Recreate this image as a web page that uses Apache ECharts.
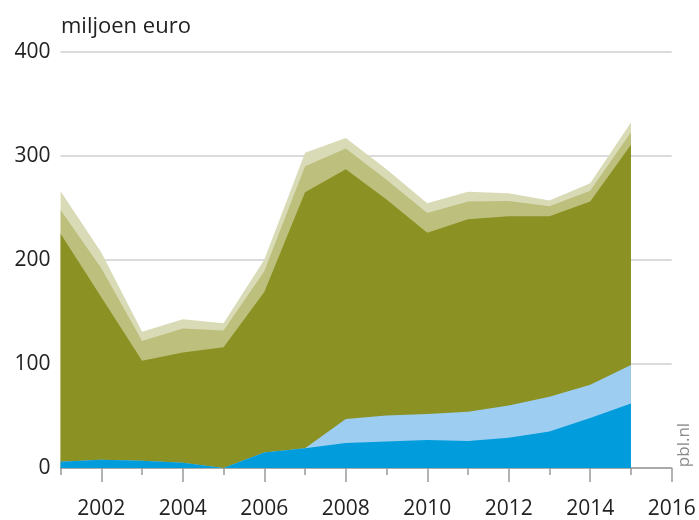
<!DOCTYPE html>
<html>
<head>
<meta charset="utf-8">
<script src="https://cdn.jsdelivr.net/npm/echarts@6/dist/echarts.min.js"></script>
<style>
html,body{margin:0;padding:0;background:#fff;}
#chart{width:699px;height:520px;}
</style>
</head>
<body>
<div id="chart"></div>
<script>
// Data (miljoen euro), layers listed bottom to top
const years = [2001,2002,2003,2004,2005,2006,2007,2008,2009,2010,2011,2012,2013,2014,2015];
const blueSeries      = [6, 8, 7, 5, 0, 15, 19, 24, 25.5, 27, 26, 29, 35, 48, 62];
const lightBlueSeries = [0, 0, 0, 0, 0, 0, 0, 23, 25, 25, 28, 31, 33.5, 32, 37];
const oliveSeries     = [219, 156, 96, 106, 116, 154, 246, 240, 207.5, 174, 185, 182, 173.5, 176, 211.5];
const mediumSeries    = [23, 28, 19, 23, 16, 20, 25, 20, 19, 19, 17, 14.5, 9.5, 10.5, 12];
const paleSeries      = [18, 15, 9, 9, 7, 11, 13, 10, 10, 9.5, 9.5, 7.5, 5.5, 7, 9.5];
const allTickYears = [2001,2002,2003,2004,2005,2006,2007,2008,2009,2010,2011,2012,2013,2014,2015,2016];
const labelYears = [2002,2004,2006,2008,2010,2012,2014,2016];
const yTicks = [0,100,200,300,400];

const FONT = '"Open Sans", "DejaVu Sans", sans-serif';
const layers = [
  {name:'a', values: blueSeries,      color:'#009cdc'},
  {name:'b', values: lightBlueSeries, color:'#9dcdf0'},
  {name:'c', values: oliveSeries,     color:'#8b9123'},
  {name:'d', values: mediumSeries,    color:'#bdbf7d'},
  {name:'e', values: paleSeries,      color:'#d9dbb6'}
];
// cumulative tops (stacking)
const running = years.map(()=>0);
layers.forEach(l => { l.cum = l.values.map((v,i)=> (running[i] += v)); });

const series = layers.slice().reverse().map(l => ({
  name: l.name, type:'line', data: years.map((y,i)=>[y, l.cum[i]]),
  showSymbol:false, symbol:'none', lineStyle:{width:0}, silent:true,
  areaStyle:{color:l.color, opacity:1, origin:'start'}, itemStyle:{color:l.color},
  z:3
}));

const chart = echarts.init(document.getElementById('chart'), null, {renderer:'canvas'});
chart.setOption({
  animation:false,
  title:{text:'miljoen euro', left:56, top:11,
    textStyle:{fontFamily:FONT, fontSize:22, fontWeight:'normal', color:'#222'}},
  grid:{left:60.6, right:27.3, top:51.7, bottom:49},
  xAxis:[{
    type:'value', min:allTickYears[0], max:allTickYears[allTickYears.length-1],
    axisLine:{show:true, lineStyle:{color:'#999', width:1.5}},
    axisTick:{show:true, customValues:allTickYears, length:7, lineStyle:{color:'#999', width:1.5}},
    axisLabel:{show:false}, splitLine:{show:false}
  },{
    type:'value', position:'bottom', min:allTickYears[0], max:allTickYears[allTickYears.length-1],
    axisLine:{show:false},
    axisTick:{show:true, customValues:labelYears, length:14, lineStyle:{color:'#999', width:1.5}},
    axisLabel:{show:true, customValues:labelYears, margin:31, fontFamily:FONT, fontSize:21, color:'#222',
      formatter: v => String(v)},
    splitLine:{show:false}
  }],
  yAxis:{
    type:'value', min:yTicks[0], max:yTicks[yTicks.length-1], interval:100,
    axisLine:{show:false}, axisTick:{show:false},
    axisLabel:{fontFamily:FONT, fontSize:21, color:'#222', margin:10},
    splitLine:{show:true, lineStyle:{color:'#cfcfcf', width:1.5}}
  },
  series: series,
  graphic:[{
    type:'text', x:684, y:445, rotation:Math.PI/2,
    style:{text:'pbl.nl', fontFamily:FONT, fontSize:17, fill:'#8a8a8a', align:'center', verticalAlign:'middle'}
  }]
});
</script>
</body>
</html>
